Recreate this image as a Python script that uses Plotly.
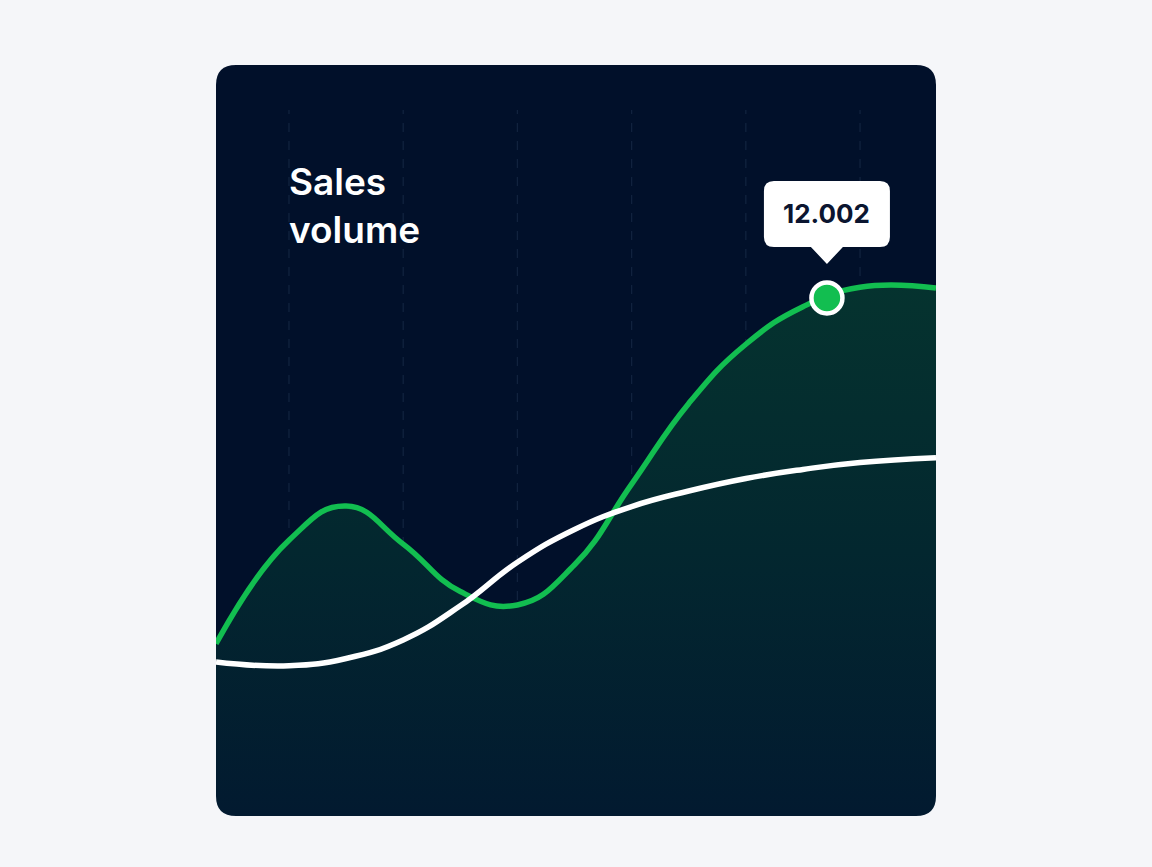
import plotly.graph_objects as go

# ---------------- data ----------------
x_vals = [0.361, 1.0, 1.5, 2.0, 2.5, 3.0, 3.5, 4.0, 4.5, 5.0, 5.5, 6.0, 6.665]
green_y = [3.99, 6.39, 7.18, 6.30, 5.20, 4.89, 5.82, 7.69, 9.56, 10.93, 11.80, 12.25, 12.23]
white_y = [3.57, 3.48, 3.65, 4.08, 4.87, 5.88, 6.64, 7.17, 7.53, 7.82, 8.03, 8.19, 8.30]

grid_x = [1, 2, 3, 4, 5, 6]

highlight_x = [5.71]
highlight_y = [12.002]
highlight_label = ["12.002"]

title_lines = ["Sales", "volume"]

X_RANGE = [0.361, 6.665]
Y_RANGE = [0, 17.4]

# ---------------- geometry helpers ----------------
W, H = 1152, 867
L, R, T, B = 216, 216, 65, 51
PW, PH = W - L - R, H - T - B


def px(xp):
    return (xp - L) / PW


def py(yp):
    return (H - B - yp) / PH


def data_to_px(x, y):
    xp = L + (x - X_RANGE[0]) / (X_RANGE[1] - X_RANGE[0]) * PW
    yp = (H - B) - (y - Y_RANGE[0]) / (Y_RANGE[1] - Y_RANGE[0]) * PH
    return xp, yp


PAGE = "#f5f6f9"
CARD = "#01102a"
GREEN = "#12be50"

fig = go.Figure()

fig.add_trace(go.Scatter(
    x=x_vals, y=green_y, mode="lines",
    line=dict(color=GREEN, width=5.5, shape="spline", smoothing=1.3, simplify=False),
    fill="tozeroy",
    fillgradient=dict(type="vertical",
                      colorscale=[[0, "#021a30"], [0.5, "#03272f"], [1, "#05332f"]]),
    hoverinfo="skip", showlegend=False,
))

fig.add_trace(go.Scatter(
    x=x_vals, y=white_y, mode="lines",
    line=dict(color="#ffffff", width=5.5, shape="spline", smoothing=1.3, simplify=False),
    hoverinfo="skip", showlegend=False,
))

fig.add_trace(go.Scatter(
    x=highlight_x, y=highlight_y, mode="markers",
    marker=dict(size=31, color=GREEN, line=dict(color="#ffffff", width=4.5)),
    hoverinfo="skip", showlegend=False,
))

shapes = []
# card (rounded rectangle)
rx, ry = 20 / PW, 20 / PH
card_path = (f"M {rx},0 L {1-rx},0 Q 1,0 1,{ry} L 1,{1-ry} Q 1,1 {1-rx},1 "
             f"L {rx},1 Q 0,1 0,{1-ry} L 0,{ry} Q 0,0 {rx},0 Z")
shapes.append(dict(type="path", path=card_path, xref="paper", yref="paper",
                   fillcolor=CARD, line=dict(width=0), layer="below"))
# dashed grid lines
for gx in grid_x:
    shapes.append(dict(type="line", xref="x", yref="paper", x0=gx, x1=gx,
                       y0=0, y1=py(110),
                       line=dict(color="rgba(120,150,185,0.14)", width=1.3, dash="dash"),
                       layer="below"))
# bottom corner masks (to clip the fill to the rounded card)
shapes.append(dict(type="path", xref="paper", yref="paper",
                   path=f"M 0,0 L {rx},0 Q 0,0 0,{ry} Z",
                   fillcolor=PAGE, line=dict(width=0), layer="above"))
shapes.append(dict(type="path", xref="paper", yref="paper",
                   path=f"M 1,0 L {1-rx},0 Q 1,0 1,{ry} Z",
                   fillcolor=PAGE, line=dict(width=0), layer="above"))

# tooltip bubble above the highlighted point
hx, hy = data_to_px(highlight_x[0], highlight_y[0])
bl, br = hx - 63, hx + 63
bt, bb = hy - 117, hy - 51
tip = hy - 34
cr = 10
bub = (f"M {px(bl+cr)},{py(bt)} L {px(br-cr)},{py(bt)} Q {px(br)},{py(bt)} {px(br)},{py(bt+cr)} "
       f"L {px(br)},{py(bb-cr)} Q {px(br)},{py(bb)} {px(br-cr)},{py(bb)} "
       f"L {px(hx+16)},{py(bb)} L {px(hx)},{py(tip)} L {px(hx-16)},{py(bb)} "
       f"L {px(bl+cr)},{py(bb)} Q {px(bl)},{py(bb)} {px(bl)},{py(bb-cr)} "
       f"L {px(bl)},{py(bt+cr)} Q {px(bl)},{py(bt)} {px(bl+cr)},{py(bt)} Z")
shapes.append(dict(type="path", path=bub, xref="paper", yref="paper",
                   fillcolor="#ffffff", line=dict(width=0), layer="above"))

annotations = [
    dict(text="<br>".join(title_lines), xref="paper", yref="paper",
         x=px(287), y=py(157), xanchor="left", yanchor="top", align="left",
         showarrow=False,
         font=dict(family="Inter", size=37, color="#ffffff", weight=600)),
    dict(text=highlight_label[0], xref="x", yref="paper",
         x=highlight_x[0], y=py((bt + bb) / 2), xanchor="center", yanchor="middle",
         showarrow=False,
         font=dict(family="Inter", size=26, color="#0b1530", weight=700)),
]

fig.update_layout(
    width=W, height=H,
    margin=dict(l=L, r=R, t=T, b=B, pad=0),
    paper_bgcolor=PAGE, plot_bgcolor="rgba(0,0,0,0)",
    xaxis=dict(range=X_RANGE, visible=False, fixedrange=True),
    yaxis=dict(range=Y_RANGE, visible=False, fixedrange=True),
    shapes=shapes, annotations=annotations,
    showlegend=False,
)

fig.write_html("out.html", config={"displayModeBar": False},
               post_script="document.body.style.margin='0';document.body.style.overflow='hidden';")
